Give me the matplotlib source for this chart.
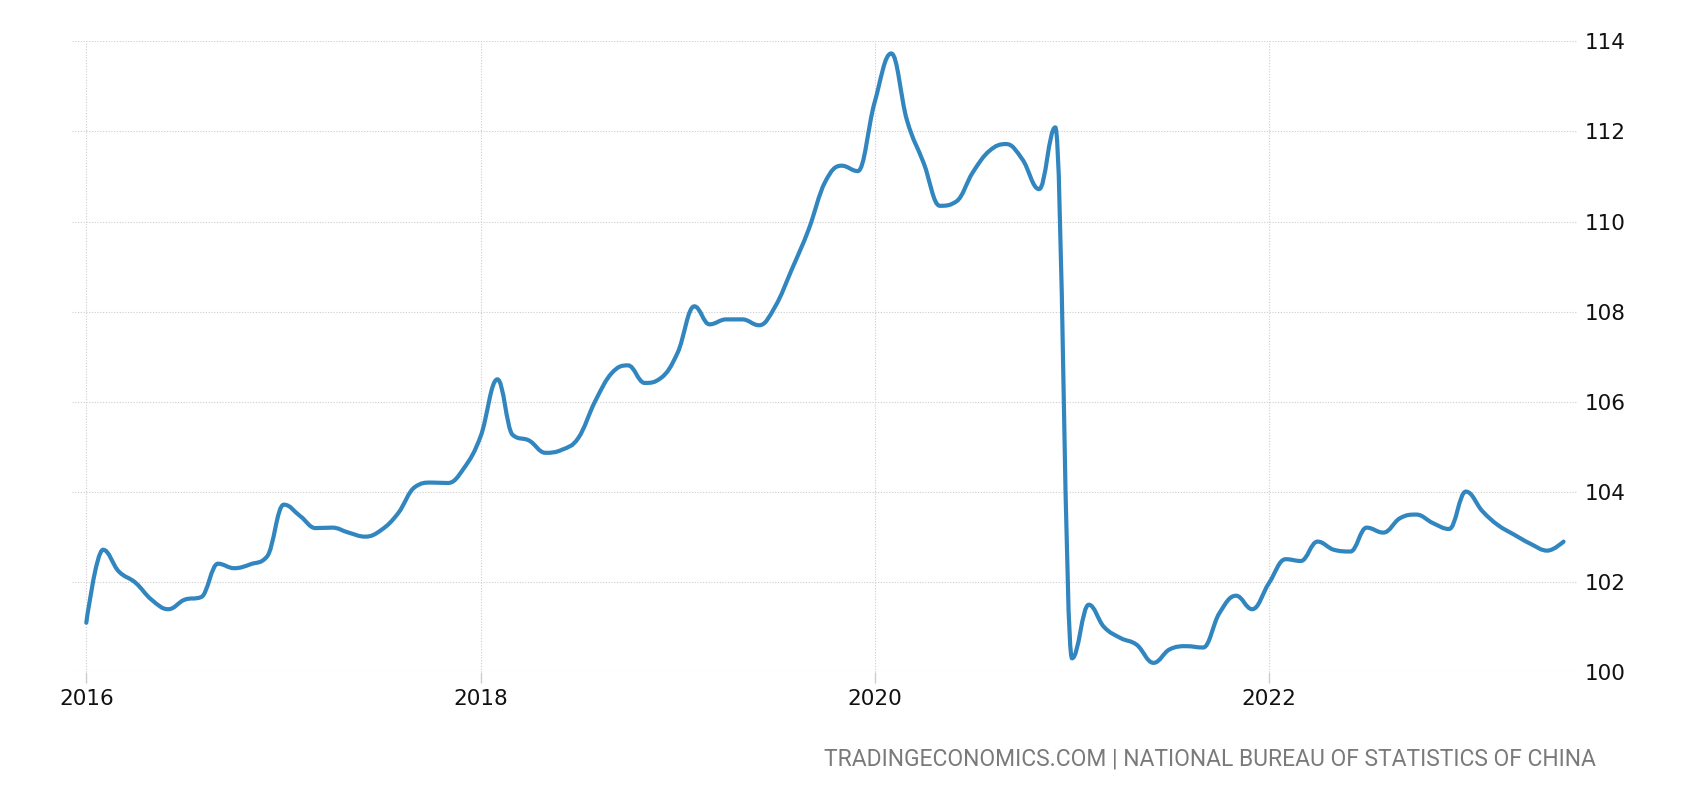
import numpy as np
import pandas as pd
import matplotlib
matplotlib.use("Agg")
import matplotlib.pyplot as plt
import matplotlib.dates as mdates
from matplotlib.path import Path
from matplotlib.patches import PathPatch

# monthly values, Jan 2016 .. Jul 2023
months = pd.date_range("2016-01-01", "2023-07-01", freq="MS")
values = [
    101.10, 102.72, 102.24, 101.99, 101.61, 101.40, 101.61, 101.67, 102.41, 102.31, 102.40, 102.57,
    103.72, 103.46, 103.20, 103.21, 103.10, 103.01, 103.16, 103.53, 104.11, 104.21, 104.20, 104.53,
    105.24, 106.50, 105.27, 105.14, 104.87, 104.94, 105.20, 106.01, 106.64, 106.81, 106.42, 106.53,
    107.09, 108.12, 107.72, 107.83, 107.83, 107.70, 108.12, 108.95, 109.83, 110.87, 111.24, 111.12,
    112.64, 113.73, 112.25, 111.30, 110.35, 110.45, 111.09, 111.57, 111.72, 111.38, 110.72, 112.09,
    100.31, 101.50, 101.01, 100.76, 100.61, 100.21, 100.51, 100.58, 100.55, 101.31, 101.70, 101.40,
    101.98, 102.51, 102.47, 102.90, 102.72, 102.68, 103.21, 103.10, 103.42, 103.50, 103.31, 103.18,
    104.01, 103.57, 103.27, 103.05, 102.85, 102.70, 102.90,
]
year_ticks = ["2016", "2018", "2020", "2022"]
y_ticks = [100, 102, 104, 106, 108, 110, 112, 114]
source = "TRADINGECONOMICS.COM | NATIONAL BUREAU OF STATISTICS OF CHINA"

LINE = "#3186bf"
GRID = "#cccccc"


def spline_path(xs, ys, smoothing=1.5):
    # highcharts-style spline: bezier through each point, no false extremes
    n = len(xs)
    lc = [(xs[i], ys[i]) for i in range(n)]
    rc = [(xs[i], ys[i]) for i in range(n)]
    d = smoothing + 1
    for i in range(1, n - 1):
        px, py = xs[i], ys[i]
        lx, ly = xs[i - 1], ys[i - 1]
        nx, ny = xs[i + 1], ys[i + 1]
        lcx = (smoothing * px + lx) / d
        lcy = (smoothing * py + ly) / d
        rcx = (smoothing * px + nx) / d
        rcy = (smoothing * py + ny) / d
        corr = 0
        if rcx != lcx:
            corr = (rcy - lcy) * (rcx - px) / (rcx - lcx) + py - rcy
        lcy += corr
        rcy += corr
        if lcy > ly and lcy > py:
            lcy = max(ly, py)
            rcy = 2 * py - lcy
        elif lcy < ly and lcy < py:
            lcy = min(ly, py)
            rcy = 2 * py - lcy
        if rcy > ny and rcy > py:
            rcy = max(ny, py)
            lcy = 2 * py - rcy
        elif rcy < ny and rcy < py:
            rcy = min(ny, py)
            lcy = 2 * py - rcy
        lc[i] = (lcx, lcy)
        rc[i] = (rcx, rcy)
    verts = [(xs[0], ys[0])]
    codes = [Path.MOVETO]
    for i in range(1, n):
        verts += [rc[i - 1], lc[i], (xs[i], ys[i])]
        codes += [Path.CURVE4] * 3
    return Path(verts, codes)


fig = plt.figure(figsize=(17, 8), dpi=100)
ax = fig.add_axes([0.0422, 0.1596, 0.8861, 0.7888])

x = mdates.date2num(months)
ax.add_patch(PathPatch(spline_path(list(x), values), fill=False,
                       edgecolor=LINE, lw=3, capstyle="round", joinstyle="round"))

ax.set_xlim(mdates.date2num(pd.Timestamp("2015-12-05")),
            mdates.date2num(pd.Timestamp("2023-07-28")))
ax.set_ylim(100, 114)

ax.set_xticks(mdates.date2num([pd.Timestamp(y + "-01-01") for y in year_ticks]))
ax.set_xticklabels(year_ticks)
ax.set_yticks(y_ticks)
ax.yaxis.tick_right()

ax.tick_params(axis="x", length=8, width=1, color=GRID, pad=4,
               labelsize=15.5, labelcolor="#111111")
ax.tick_params(axis="y", length=0, pad=5, labelsize=15.5, labelcolor="#111111")

ax.grid(True, color=GRID, linestyle=(0, (1, 1.5)), lw=0.8)
ax.set_axisbelow(True)
for s in ax.spines.values():
    s.set_visible(False)

txt = fig.text(0.939, 0.051, source, ha="right", va="center", color="#7a7a7a",
               fontsize=16, family=["Roboto", "DejaVu Sans"])
fig.canvas.draw()
w = txt.get_window_extent().width
txt.set_fontsize(16 * 775 / w)

fig.savefig("out.png", dpi=100)
